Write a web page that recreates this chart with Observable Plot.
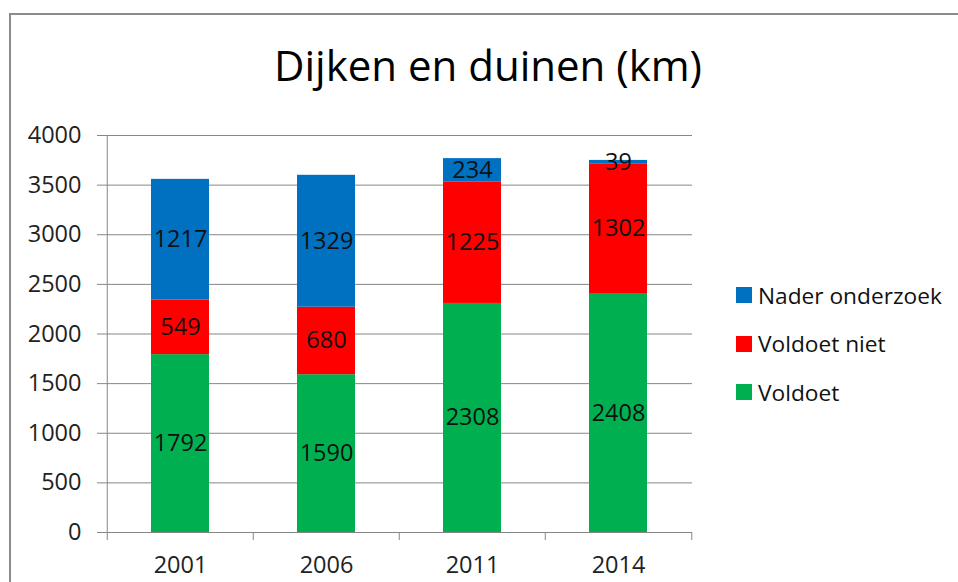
<!DOCTYPE html>
<html>
<head>
<meta charset="utf-8">
<script src="https://cdn.jsdelivr.net/npm/d3@7"></script>
<script src="https://cdn.jsdelivr.net/npm/@observablehq/plot@0.6"></script>
<style>
  html, body { margin: 0; padding: 0; background: #fff; }
  #wrap { position: relative; width: 958px; height: 582px; overflow: hidden; font-family: "Open Sans", sans-serif; }
  #frame { position: absolute; left: 9px; top: 13px; width: 1000px; height: 1000px; border-left: 2px solid #8c8c8c; border-top: 2px solid #8c8c8c; }
  #title { position: absolute; left: 0; width: 976px; top: 37px; text-align: center; font-size: 42px; line-height: 56px; color: #000; }
  #legend { position: absolute; left: 736px; top: 271px; font-size: 22.7px; color: #111; }
  .item { display: flex; align-items: center; height: 48.5px; }
  .sw { width: 16px; height: 16px; margin-right: 6px; }
  #chart { position: absolute; left: 0; top: 0; }
</style>
</head>
<body>
<div id="wrap">
  <div id="frame"></div>
  <div id="chart"></div>
  <div id="title"></div>
  <div id="legend"></div>
</div>
<script>
const titleText = "Dijken en duinen (km)";
const years = ["2001", "2006", "2011", "2014"];
const series = ["Voldoet", "Voldoet niet", "Nader onderzoek"];
const colors = ["#00B050", "#FF0000", "#0070C0"];
const voldoet = [1792, 1590, 2308, 2408];
const voldoetNiet = [549, 680, 1225, 1302];
const naderOnderzoek = [1217, 1329, 234, 39];
const yTicks = [0, 500, 1000, 1500, 2000, 2500, 3000, 3500, 4000];

const seriesValues = [voldoet, voldoetNiet, naderOnderzoek];
const data = [];
series.forEach((s, si) => years.forEach((y, yi) => data.push({year: y, series: s, value: seriesValues[si][yi]})));

document.getElementById("title").textContent = titleText;
const legend = document.getElementById("legend");
[...series].reverse().forEach((s) => {
  const i = series.indexOf(s);
  const row = document.createElement("div");
  row.className = "item";
  row.innerHTML = `<div class="sw" style="background:${colors[i]}"></div><span>${s}</span>`;
  legend.appendChild(row);
});

const W = 958, H = 582, mL = 106, mR = 266, mT = 135, mB = 50;
const step = (W - mL - mR) / years.length;
const axisColor = "#868686";

const plot = Plot.plot({
  width: W, height: H,
  marginLeft: mL, marginRight: mR, marginTop: mT, marginBottom: mB,
  style: {fontFamily: "'Open Sans', sans-serif", fontSize: "23.5px", color: "#000", background: "transparent"},
  x: {domain: years, paddingInner: 0.6, paddingOuter: 0.3, label: null},
  y: {domain: [0, 4000], label: null},
  color: {domain: series, range: colors},
  marks: [
    Plot.ruleY(yTicks, {y: d => d, stroke: axisColor, strokeWidth: 1, insetLeft: -9}),
    Plot.barY(data, Plot.stackY({x: "year", y: "value", fill: "series", order: series})),
    Plot.text(data, Plot.stackY({x: "year", y: "value", text: d => String(d.value), z: "series", order: series, fontSize: 23.5, fill: "#111"})),
    // y axis line
    Plot.ruleX([years[0]], {x: d => d, dx: -step / 2, y1: 0, y2: 4000, stroke: axisColor}),
    // x boundary ticks below axis
    Plot.ruleX(years, {x: d => d, dx: -step / 2, y1: 0, y2: 0, insetBottom: -8, stroke: axisColor}),
    Plot.ruleX([years[years.length - 1]], {x: d => d, dx: step / 2, y1: 0, y2: 0, insetBottom: -8, stroke: axisColor}),
    Plot.axisY(yTicks, {tickSize: 0, tickPadding: 25, fontSize: 23.5, fill: "#222", tickFormat: d => String(d)}),
    Plot.axisX({tickSize: 0, tickPadding: 24, fontSize: 23.5, fill: "#222"})
  ]
});
document.getElementById("chart").appendChild(plot);
</script>
</body>
</html>
